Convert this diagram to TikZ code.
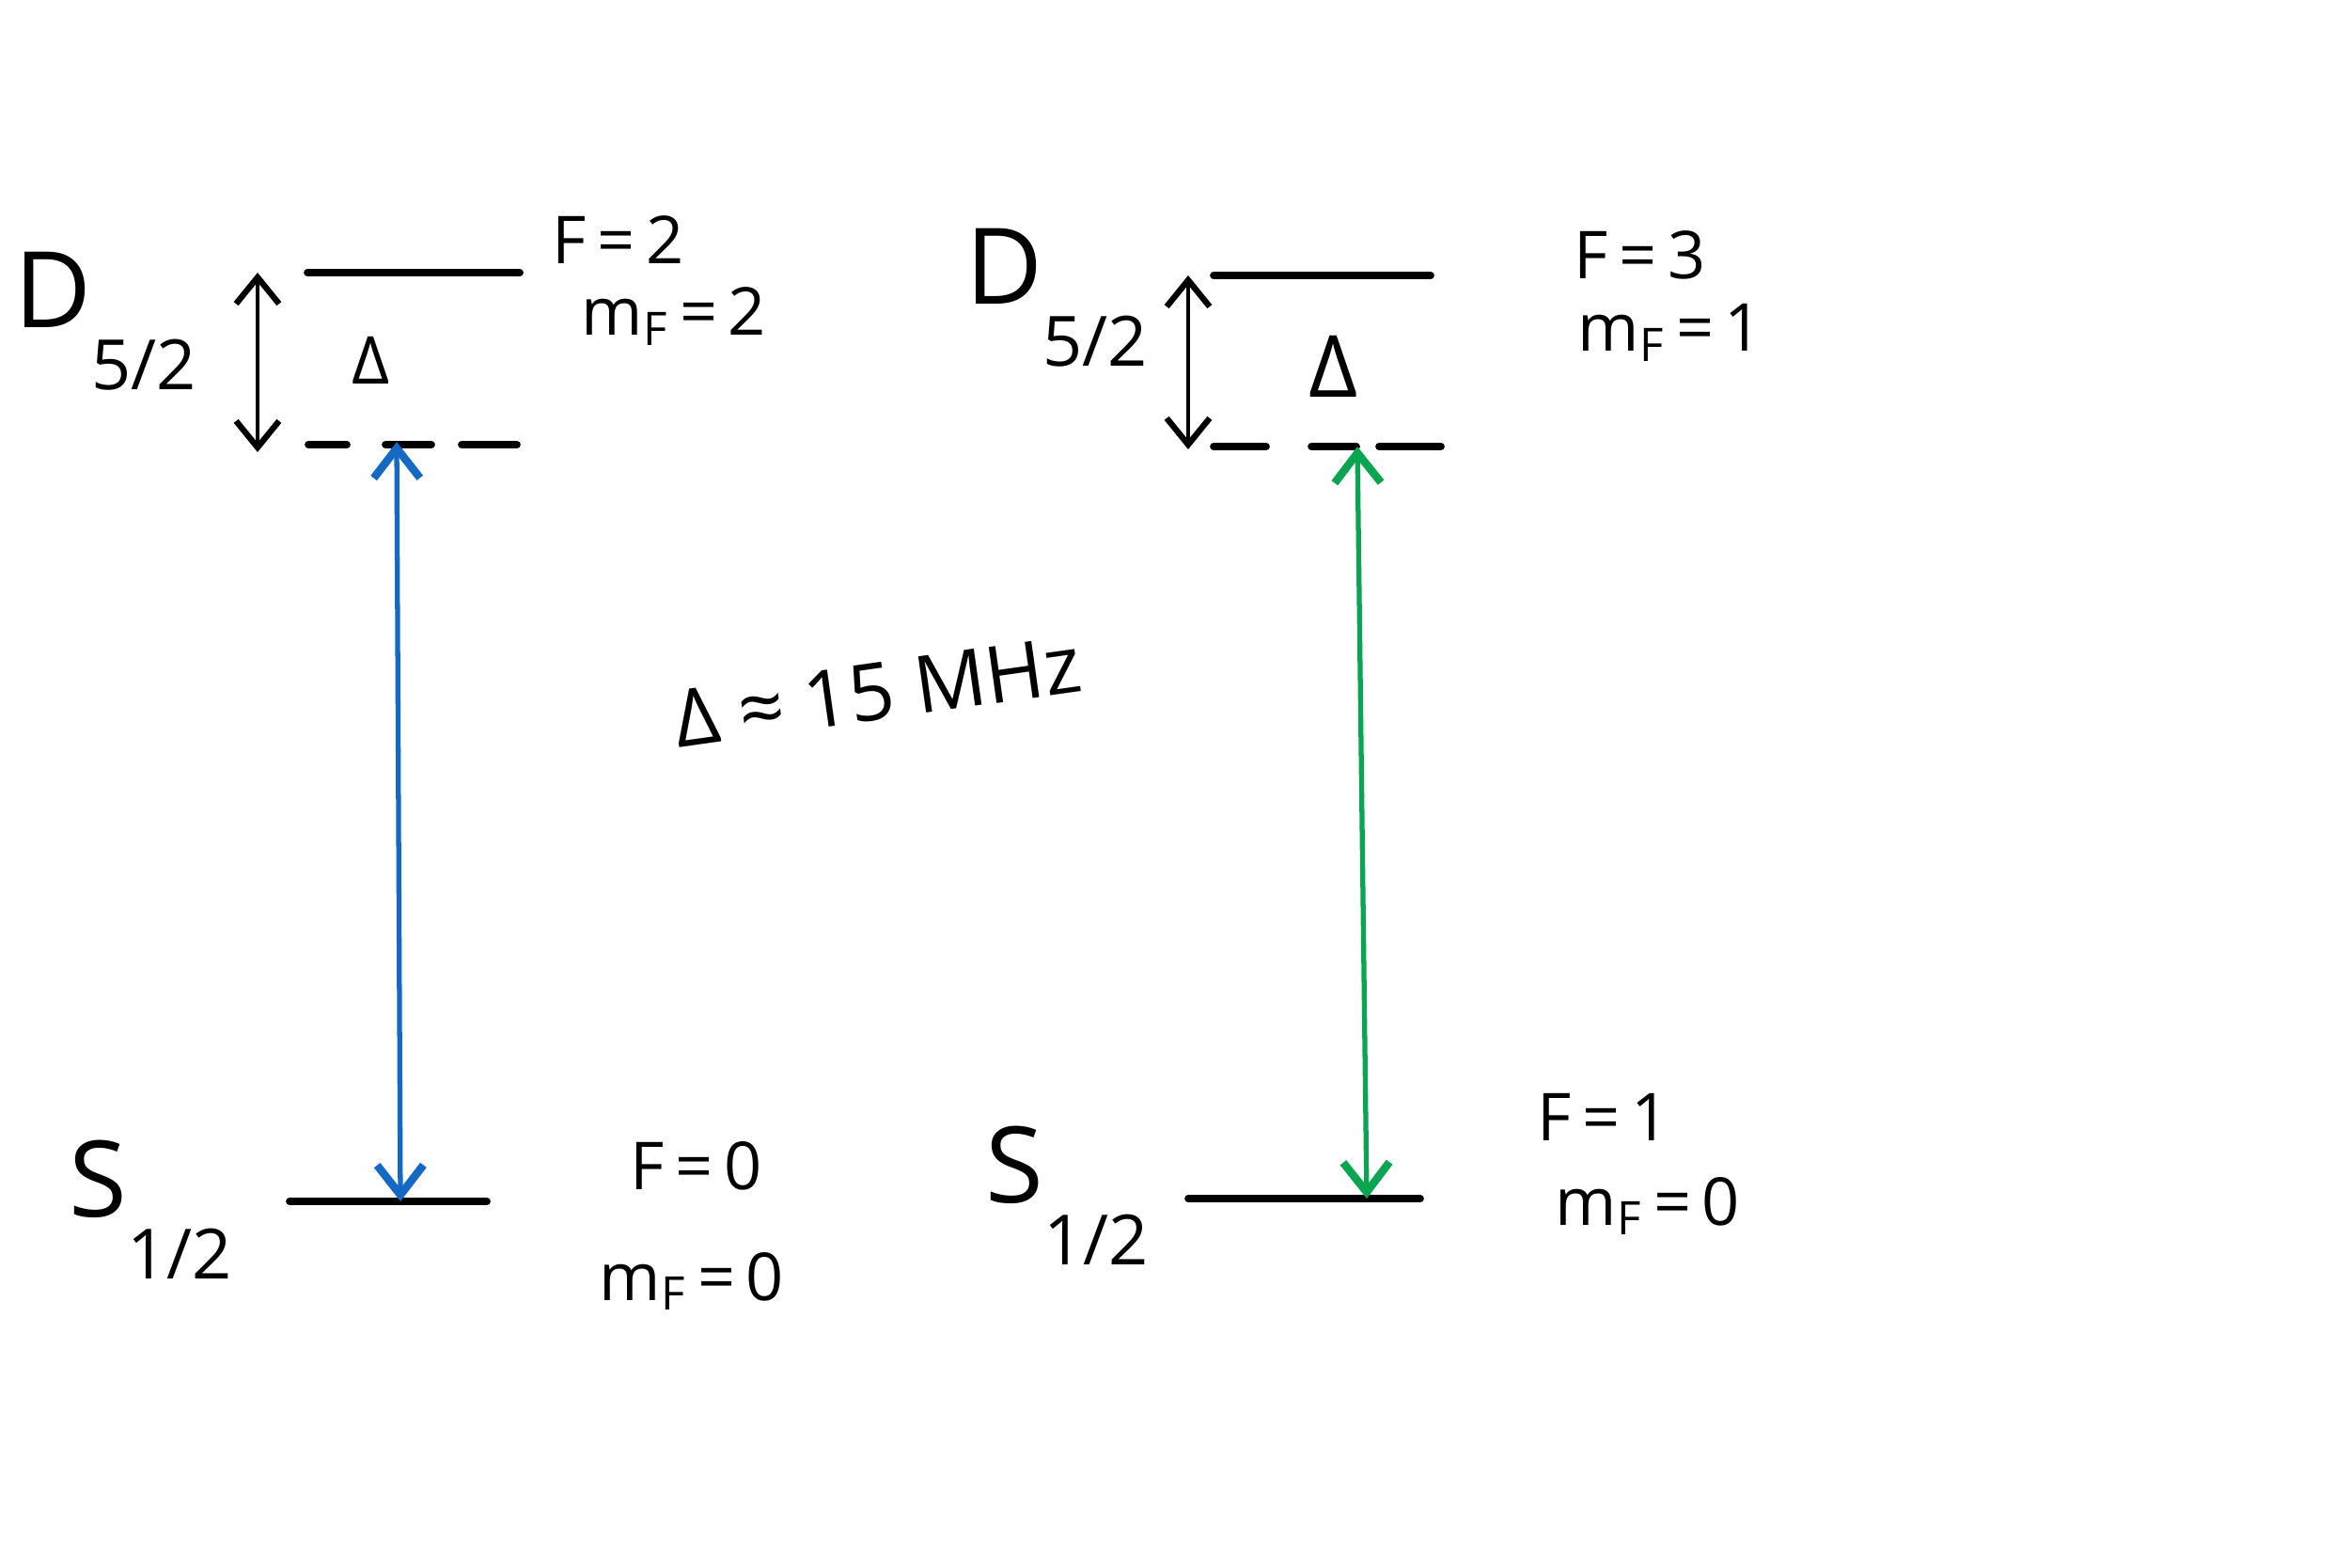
\documentclass[tikz,border=0pt]{standalone}
\usepackage{fontspec}
\setmainfont{Open Sans}
\usetikzlibrary{arrows.meta}
\definecolor{laserblue}{HTML}{1469C4}
\definecolor{lasergreen}{HTML}{0AA550}
\newcommand{\lowsub}[1]{\raisebox{-1.1ex}{\fontsize{21}{24}\selectfont #1}}
\tikzset{
  level/.style={line width=2.2pt, line cap=round},
  split/.style={line width=1.4pt, {Straight Barb[length=8pt,width=13pt,line width=1.8pt]}-{Straight Barb[length=8pt,width=13pt,line width=1.8pt]}},
  laser/.style={line width=1.5pt, {Straight Barb[length=9pt,width=14pt,line width=2.4pt]}-{Straight Barb[length=9pt,width=14pt,line width=2.4pt]}},
  lbl/.style={font=\fontsize{20}{24}\selectfont},
  term/.style={font=\fontsize{32}{38}\selectfont},
}
\begin{document}
\begin{tikzpicture}
\useasboundingbox (0,0) rectangle (25,16.67);
% left scheme
\draw[level] (3.27,13.77) -- (5.53,13.77);
\foreach \a/\b in {3.28/3.69, 4.10/4.59, 4.91/5.50}
  \draw[level] (\a,11.94) -- (\b,11.94);
\draw[level] (3.08,3.89) -- (5.18,3.89);
\coordinate (lup) at (2.74,13.77);
\coordinate (ldet) at (2.74,11.86);
\draw[split] (lup) -- (ldet);
\coordinate (lvirt) at (4.22,11.97);
\coordinate (lgnd) at (4.26,3.89);
\draw[laser, laserblue] (lvirt) -- (lgnd);
\node[term] (lD) at (1.12,13.25) {D\lowsub{5/2}};
\node[term] (lS) at (1.60,3.80) {S\lowsub{1/2}};
\node[lbl] (ldelta) at (3.95,12.84) {Δ};
\node[lbl] (lF) at (6.58,14.12) {F\,=\,2};
\node[lbl] (lmF) at (7.17,13.30) {m\textsubscript{F}\,=\,2};
\node[lbl] (lF0) at (7.41,4.27) {F\,=\,0};
\node[lbl] (lmF0) at (7.36,3.04) {m\textsubscript{F}\,=\,0};
% detuning note
\node[rotate=8, font=\fontsize{24}{28}\selectfont] (dnote) at (9.33,9.31) {Δ ≈ 15 MHz};
% right scheme
\draw[level] (12.91,13.74) -- (15.22,13.74);
\foreach \a/\b in {12.91/13.47, 13.95/14.43, 14.67/15.33}
  \draw[level] (\a,11.92) -- (\b,11.92);
\draw[level] (12.64,3.92) -- (15.11,3.92);
\coordinate (rup) at (12.64,13.74);
\coordinate (rdet) at (12.64,11.89);
\draw[split] (rup) -- (rdet);
\coordinate (rvirt) at (14.44,11.92);
\coordinate (rgnd) at (14.54,3.92);
\draw[laser, lasergreen] (rvirt) -- (rgnd);
\node[term] (rD) at (11.24,13.50) {D\lowsub{5/2}};
\node[term] (rS) at (11.35,3.95) {S\lowsub{1/2}};
\node[font=\fontsize{26}{30}\selectfont] (rdelta) at (14.19,12.77) {Δ};
\node[lbl] (rF) at (17.45,13.96) {F\,=\,3};
\node[lbl] (rmF) at (17.77,13.13) {m\textsubscript{F}\,=\,1};
\node[lbl] (rF1) at (17.06,4.79) {F\,=\,1};
\node[lbl] (rmF0) at (17.53,3.84) {m\textsubscript{F}\,=\,0};
\end{tikzpicture}
\end{document}
